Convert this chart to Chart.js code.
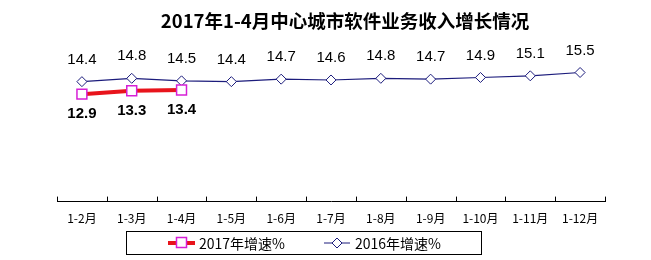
<!DOCTYPE html>
<html lang="zh">
  <head>
    <meta charset="UTF-8" />
    <title>2017年1-4月中心城市软件业务收入增长情况</title>
    <style>
      html, body { margin: 0; padding: 0; background: #fff; }
      #wrap { width: 651px; height: 260px; position: relative; }
    </style>
  </head>
  <body>
    <div id="wrap"><canvas id="chart" width="651" height="260"></canvas></div>

    <script src="https://cdn.jsdelivr.net/npm/chart.js"></script>
    <script>
      const chartTitle = "2017年1-4月中心城市软件业务收入增长情况";
      const months = ["1-2月", "1-3月", "1-4月", "1-5月", "1-6月", "1-7月", "1-8月", "1-9月", "1-10月", "1-11月", "1-12月"];
      const growth2017 = [12.9, 13.3, 13.4];
      const growth2016 = [14.4, 14.8, 14.5, 14.4, 14.7, 14.6, 14.8, 14.7, 14.9, 15.1, 15.5];
      const seriesNames = ["2017年增速%", "2016年增速%"];

      const cjk = '"SimSun", "Noto Sans CJK SC", sans-serif';
      const latin = '"Liberation Sans", Arial, sans-serif';

      // titre, étiquettes, graduations et légende dessinés à la main
      const decor = {
        id: "decor",
        afterDraw(chart) {
          const ctx = chart.ctx;
          const x = chart.scales.x;
          const area = chart.chartArea;
          ctx.save();

          // titre
          ctx.fillStyle = "#000";
          ctx.font = "bold 18.5px " + cjk;
          ctx.textAlign = "center";
          ctx.textBaseline = "middle";
          ctx.fillText(chartTitle, 345, 21);

          // graduations vers le haut
          ctx.strokeStyle = "#000";
          ctx.lineWidth = 1;
          const step = (x.right - x.left) / months.length;
          ctx.beginPath();
          for (let i = 0; i <= months.length; i++) {
            const px = Math.round(x.left + i * step) + 0.5;
            ctx.moveTo(px, area.bottom);
            ctx.lineTo(px, area.bottom - 5);
          }
          ctx.stroke();

          // étiquettes de valeurs
          ctx.font = "15px " + latin;
          ctx.fillStyle = "#000";
          chart.getDatasetMeta(1).data.forEach((pt, i) => {
            ctx.fillText(growth2016[i].toFixed(1), pt.x, pt.y - 22);
          });
          ctx.font = "bold 15px " + latin;
          chart.getDatasetMeta(0).data.forEach((pt, i) => {
            ctx.fillText(growth2017[i].toFixed(1), pt.x, pt.y + 20);
          });

          // légende
          ctx.strokeStyle = "#000";
          ctx.lineWidth = 1;
          ctx.strokeRect(126.5, 231.5, 355, 23);
          const ly = 243;
          const ds = chart.data.datasets;

          ctx.strokeStyle = ds[0].borderColor;
          ctx.lineWidth = ds[0].borderWidth;
          ctx.beginPath();
          ctx.moveTo(168, ly);
          ctx.lineTo(195, ly);
          ctx.stroke();
          ctx.fillStyle = "#fff";
          ctx.strokeStyle = ds[0].pointBorderColor;
          ctx.lineWidth = 1.5;
          ctx.fillRect(176.5, ly - 5.5, 10, 10);
          ctx.strokeRect(176.5, ly - 5.5, 10, 10);

          ctx.strokeStyle = ds[1].borderColor;
          ctx.lineWidth = 1;
          ctx.beginPath();
          ctx.moveTo(324, ly);
          ctx.lineTo(350, ly);
          ctx.stroke();
          ctx.beginPath();
          ctx.moveTo(337, ly - 5);
          ctx.lineTo(342, ly);
          ctx.lineTo(337, ly + 5);
          ctx.lineTo(332, ly);
          ctx.closePath();
          ctx.fillStyle = "#fff";
          ctx.fill();
          ctx.stroke();

          ctx.fillStyle = "#000";
          ctx.font = "14px " + cjk;
          ctx.textAlign = "left";
          ctx.fillText(seriesNames[0], 199, ly + 1);
          ctx.fillText(seriesNames[1], 355, ly + 1);

          ctx.restore();
        },
      };

      new Chart(document.getElementById("chart"), {
        type: "line",
        data: {
          labels: months,
          datasets: [
            {
              label: seriesNames[0],
              data: growth2017,
              borderColor: "#e8141c",
              borderWidth: 4,
              pointStyle: "rect",
              pointRadius: 7,
              pointBorderColor: "#d61fd6",
              pointBackgroundColor: "#fff",
              pointBorderWidth: 1.5,
              tension: 0,
              order: 0,
            },
            {
              label: seriesNames[1],
              data: growth2016,
              borderColor: "#1c1c7c",
              borderWidth: 1.2,
              pointStyle: "rectRot",
              pointRadius: 5,
              pointBorderColor: "#1c1c7c",
              pointBackgroundColor: "#fff",
              pointBorderWidth: 1,
              tension: 0,
              order: 1,
            },
          ],
        },
        options: {
          responsive: false,
          animation: false,
          layout: { padding: { left: 57, right: 46, top: 35, bottom: 24 } },
          plugins: {
            legend: { display: false },
            title: { display: false },
            tooltip: { enabled: false },
          },
          scales: {
            x: {
              offset: true,
              grid: { display: false, drawTicks: false },
              border: { display: true, color: "#000", width: 1 },
              ticks: {
                color: "#000",
                padding: 10,
                maxRotation: 0,
                autoSkip: false,
                font: { family: cjk, size: 12 },
              },
            },
            y: {
              display: false,
              min: 0,
              max: 20,
            },
          },
        },
        plugins: [decor],
      });
    </script>
  </body>
</html>
